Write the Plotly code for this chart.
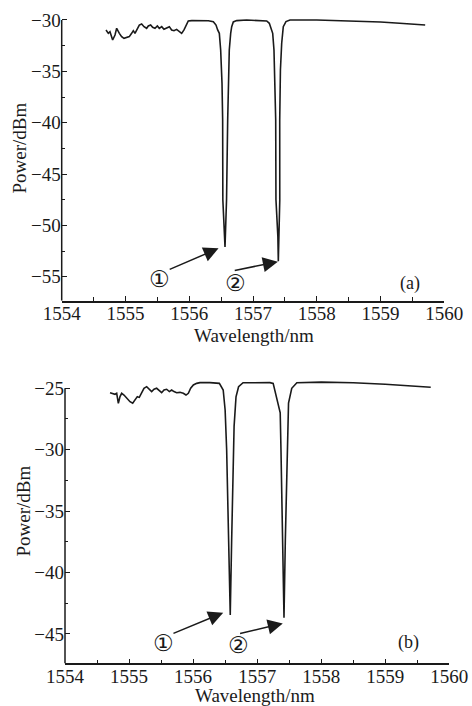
import plotly.graph_objects as go

# ---------------- data (a) ----------------
wl_a = [1554.695, 1554.731, 1554.757, 1554.799, 1554.836, 1554.862, 1554.904, 1554.940,
        1554.977, 1555.019, 1555.060, 1555.097, 1555.123, 1555.149, 1555.186, 1555.217,
        1555.254, 1555.291, 1555.332, 1555.358, 1555.395, 1555.426, 1555.463, 1555.500,
        1555.531, 1555.568, 1555.604, 1555.646, 1555.688, 1555.724, 1555.761, 1555.802,
        1555.844, 1555.881, 1555.918, 1555.949, 1555.985, 1556.040, 1556.169, 1556.300,
        1556.378, 1556.420, 1556.446, 1556.472, 1556.493, 1556.514, 1556.524, 1556.527,
        1556.561, 1556.585, 1556.603, 1556.628, 1556.650, 1556.666, 1556.691, 1556.744,
        1556.901, 1557.100, 1557.215, 1557.256, 1557.282, 1557.309, 1557.329, 1557.345,
        1557.356, 1557.360, 1557.390, 1557.397, 1557.405, 1557.420, 1557.419, 1557.430,
        1557.450, 1557.475, 1557.517, 1557.580, 1558.000, 1558.500, 1559.000, 1559.300,
        1559.700]
p_a = [-30.97, -31.30, -31.14, -31.95, -31.46, -30.81, -31.30, -31.62,
       -31.79, -31.69, -31.62, -31.30, -31.04, -31.30, -30.81, -30.49,
       -30.39, -30.65, -30.81, -30.58, -30.49, -30.71, -30.81, -30.58,
       -30.81, -30.65, -30.91, -30.81, -30.65, -30.97, -31.04, -30.91,
       -31.14, -31.30, -30.97, -30.49, -30.10, -30.06, -30.06, -30.08,
       -30.16, -30.49, -30.97, -31.30, -32.92, -36.17, -39.74, -47.50,
       -52.10, -47.50, -39.74, -32.92, -31.30, -30.65, -30.19, -30.06,
       -30.00, -30.05, -30.10, -30.32, -30.81, -31.30, -32.92, -36.17,
       -39.74, -47.50, -51.10, -53.50, -51.10, -47.50, -39.74, -34.87,
       -32.27, -30.65, -30.16, -30.00, -30.00, -30.07, -30.20, -30.32,
       -30.49]

# ---------------- data (b) ----------------
wl_b = [1554.703, 1554.781, 1554.807, 1554.833, 1554.859, 1554.885, 1554.921, 1554.963,
        1555.015, 1555.057, 1555.093, 1555.129, 1555.160, 1555.197, 1555.233, 1555.275,
        1555.317, 1555.353, 1555.390, 1555.431, 1555.473, 1555.509, 1555.546, 1555.587,
        1555.629, 1555.665, 1555.702, 1555.743, 1555.795, 1555.847, 1555.889, 1555.926,
        1555.962, 1556.004, 1556.056, 1556.107, 1556.263, 1556.410, 1556.470, 1556.500,
        1556.524, 1556.550, 1556.580, 1556.602, 1556.628, 1556.640, 1556.670, 1556.710,
        1556.780, 1557.000, 1557.200, 1557.250, 1557.310, 1557.360, 1557.372, 1557.398,
        1557.419, 1557.440, 1557.465, 1557.490, 1557.540, 1557.620, 1558.000, 1558.500,
        1559.000, 1559.400, 1559.710]
p_b = [-25.36, -25.49, -25.41, -26.22, -25.68, -25.41, -25.55, -25.82,
       -26.09, -26.22, -25.95, -25.68, -25.74, -25.41, -25.00, -24.87,
       -25.08, -25.27, -25.08, -25.00, -25.19, -25.36, -25.14, -25.08,
       -25.27, -25.14, -25.27, -25.36, -25.33, -25.41, -25.55, -25.41,
       -25.00, -24.73, -24.60, -24.54, -24.54, -24.60, -25.14, -26.77,
       -30.02, -37.35, -43.46, -37.35, -30.02, -28.10, -25.70, -24.87,
       -24.55, -24.52, -24.54, -24.60, -25.95, -27.00, -30.02, -37.35,
       -43.68, -37.35, -30.50, -26.20, -25.00, -24.55, -24.50, -24.55,
       -24.67, -24.80, -24.92]

x_ticks = [1554, 1555, 1556, 1557, 1558, 1559, 1560]
y_ticks_a = [-30, -35, -40, -45, -50, -55]
y_ticks_b = [-25, -30, -35, -40, -45]

# annotation anchors (data coords)
arrows_a = [  # (tail_x, tail_y, head_x, head_y)
    (1555.67, -54.35, 1556.46, -52.24),
    (1556.69, -54.42, 1557.39, -53.54),
]
labels_a = [("①", 1555.54, -55.26), ("②", 1556.72, -55.65)]
arrows_b = [
    (1555.67, -45.00, 1556.47, -43.27),
    (1556.71, -45.00, 1557.40, -44.14),
]
labels_b = [("①", 1555.53, -45.70), ("②", 1556.71, -45.90)]

SERIF = "Liberation Serif"
CIRC = "DejaVu Sans, Noto Sans CJK SC"
INK = "#1a1a1a"

fig = go.Figure()
fig.add_trace(go.Scatter(x=wl_a, y=p_a, mode="lines", line=dict(color=INK, width=1.6),
                         xaxis="x", yaxis="y", showlegend=False))
fig.add_trace(go.Scatter(x=wl_b, y=p_b, mode="lines", line=dict(color=INK, width=1.6),
                         xaxis="x2", yaxis="y2", showlegend=False))

def xax(domain, anchor):
    return dict(domain=domain, anchor=anchor, range=[1554, 1560], tickvals=x_ticks,
                automargin=False, ticklabelstandoff=-5,
                ticks="inside", ticklen=5, tickwidth=1.2, tickcolor=INK,
                showline=True, linewidth=1.5, linecolor=INK, showgrid=False, zeroline=False,
                minor=dict(dtick=0.5, tick0=1554, ticks="inside", ticklen=4, tickwidth=1.2, tickcolor=INK),
                tickfont=dict(family=SERIF, size=19, color=INK))

def yax(domain, anchor, rng, tv, t0):
    return dict(domain=domain, anchor=anchor, range=rng, tickvals=tv,
                automargin=False,
                ticks="inside", ticklen=5, tickwidth=1.2, tickcolor=INK,
                showline=False, showgrid=False, zeroline=False,
                minor=dict(dtick=2.5, tick0=t0, ticks="inside", ticklen=3, tickwidth=1.2, tickcolor=INK),
                tickfont=dict(family=SERIF, size=19, color=INK))

C = dict(xanchor="center", yanchor="middle", showarrow=False)
ann = []
for (tx, ty, hx, hy) in arrows_a:
    ann.append(dict(x=hx, y=hy, ax=tx, ay=ty, xref="x", yref="y", axref="x", ayref="y",
                    text="", showarrow=True, arrowhead=2, arrowsize=2, arrowwidth=1.5,
                    arrowcolor=INK, standoff=0))
for (t, x, y) in labels_a:
    ann.append(dict(x=x, y=y, xref="x", yref="y", text=t,
                    font=dict(family=CIRC, size=23, color=INK), **C))
for (tx, ty, hx, hy) in arrows_b:
    ann.append(dict(x=hx, y=hy, ax=tx, ay=ty, xref="x2", yref="y2", axref="x2", ayref="y2",
                    text="", showarrow=True, arrowhead=2, arrowsize=2, arrowwidth=1.5,
                    arrowcolor=INK, standoff=0))
for (t, x, y) in labels_b:
    ann.append(dict(x=x, y=y, xref="x2", yref="y2", text=t,
                    font=dict(family=CIRC, size=23, color=INK), **C))
ann.append(dict(x=1559.46, y=-55.7, xref="x", yref="y", text="(a)",
                font=dict(family=SERIF, size=18, color=INK), **C))
ann.append(dict(x=1559.36, y=-45.7, xref="x2", yref="y2", text="(b)",
                font=dict(family=SERIF, size=18, color=INK), **C))
# axis titles
ann.append(dict(x=254 / 472, y=1 - 335.5 / 706, xref="paper", yref="paper", text="Wavelength/nm",
                font=dict(family=SERIF, size=19, color=INK), **C))
ann.append(dict(x=255 / 472, y=1 - 695.5 / 706, xref="paper", yref="paper", text="Wavelength/nm",
                font=dict(family=SERIF, size=19, color=INK), **C))
ann.append(dict(x=18.5 / 472, y=1 - 148 / 706, xref="paper", yref="paper", text="Power/dBm",
                textangle=-90, font=dict(family=SERIF, size=19, color=INK), **C))
ann.append(dict(x=23.5 / 472, y=1 - 511 / 706, xref="paper", yref="paper", text="Power/dBm",
                textangle=-90, font=dict(family=SERIF, size=19, color=INK), **C))

shapes = [
    dict(type="line", xref="x domain", yref="y", x0=0, x1=0, y0=-57.35, y1=-30,
         line=dict(color=INK, width=1.5)),
    dict(type="line", xref="x2 domain", yref="y2", x0=0, x1=0, y0=-47.4, y1=-25,
         line=dict(color=INK, width=1.5)),
]

fig.update_layout(
    template="none",
    width=472, height=706,
    margin=dict(l=0, r=0, t=0, b=0, autoexpand=False),
    paper_bgcolor="white", plot_bgcolor="white",
    xaxis=xax([61.7 / 472, 444.3 / 472], "y"),
    yaxis=yax([0.5739, 0.9746], "x", [-57.35, -29.8], y_ticks_a, -30),
    xaxis2=xax([65 / 472, 449.3 / 472], "y2"),
    yaxis2=yax([0.0603, 0.4622], "x2", [-47.4, -24.3], y_ticks_b, -25),
    annotations=ann,
    shapes=shapes,
)

fig.write_html("out.html")
